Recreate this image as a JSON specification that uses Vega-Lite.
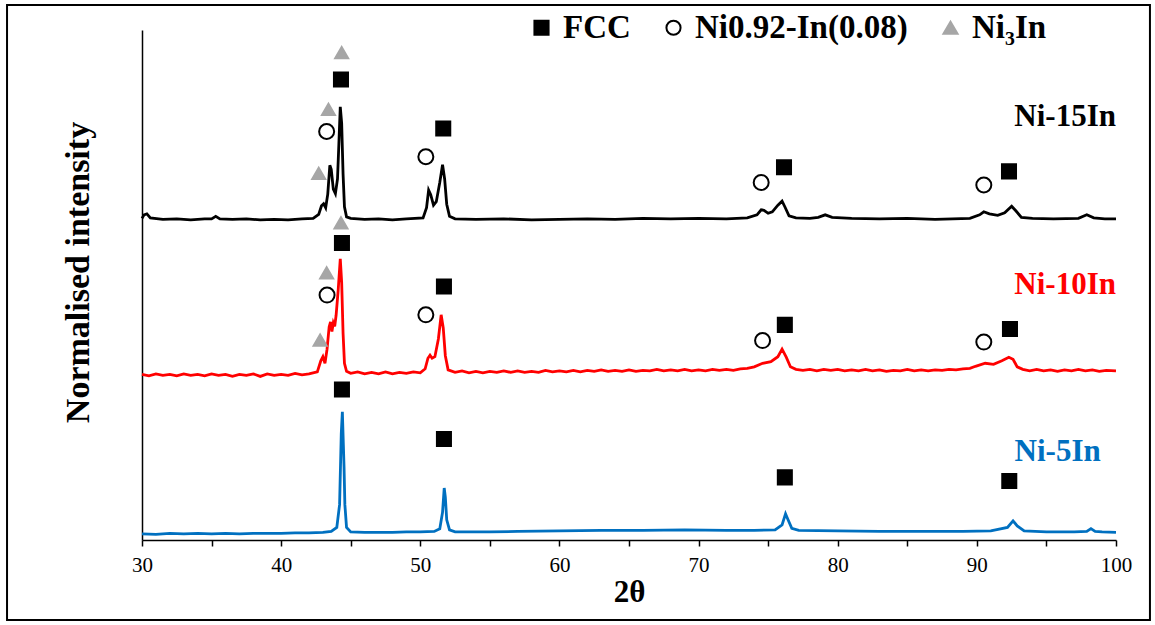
{
  "$schema": "https://vega.github.io/schema/vega-lite/v6.json",
  "width": 974,
  "height": 510,
  "autosize": {"type": "none"},
  "padding": {"left": 142, "top": 30, "right": 39, "bottom": 85},
  "background": "white",
  "config": {
    "view": {"stroke": null},
    "font": "Liberation Serif",
    "axis": {"grid": false, "domainColor": "black", "tickColor": "black", "labelColor": "black", "titleColor": "black"},
    "legend": {"labelFont": "Liberation Serif", "labelFontWeight": "bold", "labelFontSize": 33, "labelColor": "black", "labelLimit": 0}
  },
  "datasets": {
    "xrd": [
      {"s":"Ni-15In","t":30.0,"i":62.7},{"s":"Ni-15In","t":30.15,"i":63.4},{"s":"Ni-15In","t":30.35,"i":63.6},{"s":"Ni-15In","t":30.6,"i":62.8},{"s":"Ni-15In","t":31.5,"i":62.5},{"s":"Ni-15In","t":32.5,"i":62.6},{"s":"Ni-15In","t":33.5,"i":62.4},{"s":"Ni-15In","t":34.5,"i":62.6},{"s":"Ni-15In","t":35.0,"i":62.6},{"s":"Ni-15In","t":35.3,"i":63.1},{"s":"Ni-15In","t":35.6,"i":62.6},{"s":"Ni-15In","t":36.5,"i":62.5},{"s":"Ni-15In","t":37.5,"i":62.6},{"s":"Ni-15In","t":38.5,"i":62.4},{"s":"Ni-15In","t":39.5,"i":62.5},{"s":"Ni-15In","t":40.5,"i":62.4},{"s":"Ni-15In","t":41.5,"i":62.6},{"s":"Ni-15In","t":42.3,"i":62.7},{"s":"Ni-15In","t":42.7,"i":63.5},{"s":"Ni-15In","t":42.9,"i":65.2},{"s":"Ni-15In","t":43.05,"i":65.6},{"s":"Ni-15In","t":43.2,"i":64.8},{"s":"Ni-15In","t":43.35,"i":67.5},{"s":"Ni-15In","t":43.5,"i":73.2},{"s":"Ni-15In","t":43.6,"i":72.4},{"s":"Ni-15In","t":43.75,"i":68.5},{"s":"Ni-15In","t":43.9,"i":67.6},{"s":"Ni-15In","t":44.05,"i":70.5},{"s":"Ni-15In","t":44.15,"i":77.5},{"s":"Ni-15In","t":44.25,"i":84.8},{"s":"Ni-15In","t":44.35,"i":81.5},{"s":"Ni-15In","t":44.45,"i":71.5},{"s":"Ni-15In","t":44.55,"i":65.0},{"s":"Ni-15In","t":44.7,"i":63.0},{"s":"Ni-15In","t":45.0,"i":62.7},{"s":"Ni-15In","t":46.0,"i":62.5},{"s":"Ni-15In","t":47.0,"i":62.6},{"s":"Ni-15In","t":48.0,"i":62.4},{"s":"Ni-15In","t":49.0,"i":62.6},{"s":"Ni-15In","t":50.2,"i":62.8},{"s":"Ni-15In","t":50.45,"i":64.8},{"s":"Ni-15In","t":50.6,"i":68.3},{"s":"Ni-15In","t":50.75,"i":67.4},{"s":"Ni-15In","t":50.95,"i":65.3},{"s":"Ni-15In","t":51.15,"i":66.0},{"s":"Ni-15In","t":51.4,"i":69.8},{"s":"Ni-15In","t":51.6,"i":73.3},{"s":"Ni-15In","t":51.75,"i":70.5},{"s":"Ni-15In","t":51.9,"i":65.5},{"s":"Ni-15In","t":52.1,"i":63.1},{"s":"Ni-15In","t":52.5,"i":62.6},{"s":"Ni-15In","t":54.0,"i":62.5},{"s":"Ni-15In","t":56.0,"i":62.6},{"s":"Ni-15In","t":58.0,"i":62.4},{"s":"Ni-15In","t":60.0,"i":62.5},{"s":"Ni-15In","t":62.0,"i":62.6},{"s":"Ni-15In","t":64.0,"i":62.5},{"s":"Ni-15In","t":66.0,"i":62.7},{"s":"Ni-15In","t":68.0,"i":62.6},{"s":"Ni-15In","t":70.0,"i":62.7},{"s":"Ni-15In","t":72.0,"i":62.6},{"s":"Ni-15In","t":73.5,"i":62.8},{"s":"Ni-15In","t":74.2,"i":63.4},{"s":"Ni-15In","t":74.5,"i":64.4},{"s":"Ni-15In","t":74.7,"i":64.3},{"s":"Ni-15In","t":75.0,"i":63.7},{"s":"Ni-15In","t":75.3,"i":64.0},{"s":"Ni-15In","t":75.7,"i":65.3},{"s":"Ni-15In","t":76.0,"i":66.1},{"s":"Ni-15In","t":76.2,"i":65.0},{"s":"Ni-15In","t":76.5,"i":63.2},{"s":"Ni-15In","t":77.0,"i":62.8},{"s":"Ni-15In","t":78.0,"i":62.7},{"s":"Ni-15In","t":78.6,"i":62.9},{"s":"Ni-15In","t":79.1,"i":63.4},{"s":"Ni-15In","t":79.6,"i":62.9},{"s":"Ni-15In","t":81.0,"i":62.7},{"s":"Ni-15In","t":83.0,"i":62.6},{"s":"Ni-15In","t":85.0,"i":62.7},{"s":"Ni-15In","t":87.0,"i":62.5},{"s":"Ni-15In","t":89.5,"i":62.7},{"s":"Ni-15In","t":90.2,"i":63.4},{"s":"Ni-15In","t":90.5,"i":64.0},{"s":"Ni-15In","t":90.9,"i":63.6},{"s":"Ni-15In","t":91.5,"i":63.3},{"s":"Ni-15In","t":92.0,"i":63.8},{"s":"Ni-15In","t":92.5,"i":65.1},{"s":"Ni-15In","t":92.8,"i":64.2},{"s":"Ni-15In","t":93.2,"i":62.9},{"s":"Ni-15In","t":94.0,"i":62.7},{"s":"Ni-15In","t":95.5,"i":62.6},{"s":"Ni-15In","t":97.3,"i":62.7},{"s":"Ni-15In","t":97.9,"i":63.4},{"s":"Ni-15In","t":98.4,"i":62.8},{"s":"Ni-15In","t":99.2,"i":62.6},{"s":"Ni-15In","t":100.0,"i":62.6},

      {"s":"Ni-10In","t":30.0,"i":31.8},{"s":"Ni-10In","t":30.5,"i":31.5},{"s":"Ni-10In","t":31.0,"i":31.9},{"s":"Ni-10In","t":31.5,"i":31.6},{"s":"Ni-10In","t":32.0,"i":31.8},{"s":"Ni-10In","t":32.5,"i":31.5},{"s":"Ni-10In","t":33.0,"i":31.9},{"s":"Ni-10In","t":33.5,"i":31.6},{"s":"Ni-10In","t":34.0,"i":31.8},{"s":"Ni-10In","t":34.5,"i":31.5},{"s":"Ni-10In","t":35.0,"i":31.9},{"s":"Ni-10In","t":35.5,"i":31.6},{"s":"Ni-10In","t":36.0,"i":31.8},{"s":"Ni-10In","t":36.5,"i":31.4},{"s":"Ni-10In","t":37.0,"i":31.8},{"s":"Ni-10In","t":37.5,"i":31.6},{"s":"Ni-10In","t":38.0,"i":31.9},{"s":"Ni-10In","t":38.5,"i":31.4},{"s":"Ni-10In","t":39.0,"i":31.9},{"s":"Ni-10In","t":39.5,"i":31.6},{"s":"Ni-10In","t":40.0,"i":31.8},{"s":"Ni-10In","t":40.5,"i":31.6},{"s":"Ni-10In","t":41.0,"i":32.0},{"s":"Ni-10In","t":41.5,"i":31.7},{"s":"Ni-10In","t":42.0,"i":31.9},{"s":"Ni-10In","t":42.6,"i":32.3},{"s":"Ni-10In","t":42.85,"i":34.5},{"s":"Ni-10In","t":43.0,"i":35.3},{"s":"Ni-10In","t":43.15,"i":34.0},{"s":"Ni-10In","t":43.3,"i":36.8},{"s":"Ni-10In","t":43.45,"i":41.2},{"s":"Ni-10In","t":43.55,"i":42.2},{"s":"Ni-10In","t":43.65,"i":40.3},{"s":"Ni-10In","t":43.75,"i":42.0},{"s":"Ni-10In","t":43.85,"i":41.3},{"s":"Ni-10In","t":43.95,"i":43.5},{"s":"Ni-10In","t":44.1,"i":48.5},{"s":"Ni-10In","t":44.25,"i":54.7},{"s":"Ni-10In","t":44.35,"i":50.0},{"s":"Ni-10In","t":44.45,"i":40.0},{"s":"Ni-10In","t":44.55,"i":34.0},{"s":"Ni-10In","t":44.7,"i":32.4},{"s":"Ni-10In","t":45.0,"i":32.0},{"s":"Ni-10In","t":45.5,"i":32.3},{"s":"Ni-10In","t":46.0,"i":31.9},{"s":"Ni-10In","t":46.5,"i":32.2},{"s":"Ni-10In","t":47.0,"i":31.9},{"s":"Ni-10In","t":47.5,"i":32.3},{"s":"Ni-10In","t":48.0,"i":31.9},{"s":"Ni-10In","t":48.5,"i":32.2},{"s":"Ni-10In","t":49.0,"i":32.0},{"s":"Ni-10In","t":49.5,"i":32.3},{"s":"Ni-10In","t":50.0,"i":32.1},{"s":"Ni-10In","t":50.35,"i":32.9},{"s":"Ni-10In","t":50.55,"i":35.0},{"s":"Ni-10In","t":50.7,"i":35.6},{"s":"Ni-10In","t":50.85,"i":35.0},{"s":"Ni-10In","t":51.05,"i":35.3},{"s":"Ni-10In","t":51.3,"i":38.8},{"s":"Ni-10In","t":51.5,"i":43.6},{"s":"Ni-10In","t":51.65,"i":41.0},{"s":"Ni-10In","t":51.8,"i":35.5},{"s":"Ni-10In","t":52.0,"i":32.7},{"s":"Ni-10In","t":52.5,"i":32.2},{"s":"Ni-10In","t":53.0,"i":32.5},{"s":"Ni-10In","t":53.5,"i":32.1},{"s":"Ni-10In","t":54.0,"i":32.4},{"s":"Ni-10In","t":54.5,"i":32.1},{"s":"Ni-10In","t":55.0,"i":32.4},{"s":"Ni-10In","t":55.5,"i":32.2},{"s":"Ni-10In","t":56.0,"i":32.5},{"s":"Ni-10In","t":56.5,"i":32.2},{"s":"Ni-10In","t":57.0,"i":32.5},{"s":"Ni-10In","t":57.5,"i":32.2},{"s":"Ni-10In","t":58.0,"i":32.4},{"s":"Ni-10In","t":58.5,"i":32.2},{"s":"Ni-10In","t":59.0,"i":32.6},{"s":"Ni-10In","t":59.5,"i":32.3},{"s":"Ni-10In","t":60.0,"i":32.5},{"s":"Ni-10In","t":60.5,"i":32.3},{"s":"Ni-10In","t":61.0,"i":32.6},{"s":"Ni-10In","t":61.5,"i":32.3},{"s":"Ni-10In","t":62.0,"i":32.6},{"s":"Ni-10In","t":62.5,"i":32.4},{"s":"Ni-10In","t":63.0,"i":32.7},{"s":"Ni-10In","t":63.5,"i":32.4},{"s":"Ni-10In","t":64.0,"i":32.6},{"s":"Ni-10In","t":64.5,"i":32.4},{"s":"Ni-10In","t":65.0,"i":32.7},{"s":"Ni-10In","t":65.5,"i":32.4},{"s":"Ni-10In","t":66.0,"i":32.6},{"s":"Ni-10In","t":66.5,"i":32.5},{"s":"Ni-10In","t":67.0,"i":32.8},{"s":"Ni-10In","t":67.5,"i":32.5},{"s":"Ni-10In","t":68.0,"i":32.7},{"s":"Ni-10In","t":68.5,"i":32.5},{"s":"Ni-10In","t":69.0,"i":32.8},{"s":"Ni-10In","t":69.5,"i":32.5},{"s":"Ni-10In","t":70.0,"i":32.7},{"s":"Ni-10In","t":70.5,"i":32.5},{"s":"Ni-10In","t":71.0,"i":32.8},{"s":"Ni-10In","t":71.5,"i":32.6},{"s":"Ni-10In","t":72.0,"i":32.8},{"s":"Ni-10In","t":72.5,"i":32.6},{"s":"Ni-10In","t":73.0,"i":32.9},{"s":"Ni-10In","t":73.5,"i":33.0},{"s":"Ni-10In","t":74.0,"i":33.3},{"s":"Ni-10In","t":74.6,"i":34.0},{"s":"Ni-10In","t":75.2,"i":34.3},{"s":"Ni-10In","t":75.7,"i":35.3},{"s":"Ni-10In","t":76.0,"i":36.8},{"s":"Ni-10In","t":76.3,"i":35.2},{"s":"Ni-10In","t":76.6,"i":33.3},{"s":"Ni-10In","t":77.0,"i":32.8},{"s":"Ni-10In","t":77.5,"i":32.6},{"s":"Ni-10In","t":78.0,"i":32.8},{"s":"Ni-10In","t":78.5,"i":32.5},{"s":"Ni-10In","t":79.0,"i":32.8},{"s":"Ni-10In","t":79.5,"i":32.6},{"s":"Ni-10In","t":80.0,"i":32.8},{"s":"Ni-10In","t":80.5,"i":32.5},{"s":"Ni-10In","t":81.0,"i":32.7},{"s":"Ni-10In","t":81.5,"i":32.5},{"s":"Ni-10In","t":82.0,"i":32.8},{"s":"Ni-10In","t":82.5,"i":32.5},{"s":"Ni-10In","t":83.0,"i":32.7},{"s":"Ni-10In","t":83.5,"i":32.4},{"s":"Ni-10In","t":84.0,"i":32.6},{"s":"Ni-10In","t":84.5,"i":32.5},{"s":"Ni-10In","t":85.0,"i":32.8},{"s":"Ni-10In","t":85.5,"i":32.5},{"s":"Ni-10In","t":86.0,"i":32.7},{"s":"Ni-10In","t":86.5,"i":32.5},{"s":"Ni-10In","t":87.0,"i":32.7},{"s":"Ni-10In","t":87.5,"i":32.6},{"s":"Ni-10In","t":88.0,"i":32.8},{"s":"Ni-10In","t":88.5,"i":32.7},{"s":"Ni-10In","t":89.0,"i":32.9},{"s":"Ni-10In","t":89.5,"i":33.0},{"s":"Ni-10In","t":89.9,"i":33.4},{"s":"Ni-10In","t":90.6,"i":34.0},{"s":"Ni-10In","t":91.2,"i":33.8},{"s":"Ni-10In","t":91.8,"i":34.5},{"s":"Ni-10In","t":92.3,"i":35.2},{"s":"Ni-10In","t":92.6,"i":34.8},{"s":"Ni-10In","t":92.9,"i":33.3},{"s":"Ni-10In","t":93.3,"i":32.8},{"s":"Ni-10In","t":93.8,"i":32.5},{"s":"Ni-10In","t":94.3,"i":32.8},{"s":"Ni-10In","t":94.8,"i":32.5},{"s":"Ni-10In","t":95.3,"i":32.7},{"s":"Ni-10In","t":95.8,"i":32.4},{"s":"Ni-10In","t":96.3,"i":32.7},{"s":"Ni-10In","t":96.8,"i":32.5},{"s":"Ni-10In","t":97.3,"i":32.8},{"s":"Ni-10In","t":97.8,"i":32.5},{"s":"Ni-10In","t":98.3,"i":32.7},{"s":"Ni-10In","t":98.8,"i":32.4},{"s":"Ni-10In","t":99.3,"i":32.6},{"s":"Ni-10In","t":100.0,"i":32.5},

      {"s":"Ni-5In","t":30.0,"i":0.2},{"s":"Ni-5In","t":31.0,"i":0.1},{"s":"Ni-5In","t":32.0,"i":0.3},{"s":"Ni-5In","t":33.0,"i":0.2},{"s":"Ni-5In","t":34.0,"i":0.3},{"s":"Ni-5In","t":35.0,"i":0.2},{"s":"Ni-5In","t":36.0,"i":0.3},{"s":"Ni-5In","t":37.0,"i":0.2},{"s":"Ni-5In","t":38.0,"i":0.3},{"s":"Ni-5In","t":39.0,"i":0.3},{"s":"Ni-5In","t":40.0,"i":0.3},{"s":"Ni-5In","t":41.0,"i":0.4},{"s":"Ni-5In","t":42.0,"i":0.4},{"s":"Ni-5In","t":43.0,"i":0.5},{"s":"Ni-5In","t":43.6,"i":0.7},{"s":"Ni-5In","t":44.0,"i":1.5},{"s":"Ni-5In","t":44.2,"i":6.0},{"s":"Ni-5In","t":44.32,"i":20.0},{"s":"Ni-5In","t":44.4,"i":24.4},{"s":"Ni-5In","t":44.47,"i":18.0},{"s":"Ni-5In","t":44.52,"i":13.5},{"s":"Ni-5In","t":44.58,"i":6.0},{"s":"Ni-5In","t":44.7,"i":1.5},{"s":"Ni-5In","t":45.0,"i":0.6},{"s":"Ni-5In","t":46.0,"i":0.5},{"s":"Ni-5In","t":47.0,"i":0.5},{"s":"Ni-5In","t":48.0,"i":0.5},{"s":"Ni-5In","t":49.0,"i":0.6},{"s":"Ni-5In","t":50.0,"i":0.6},{"s":"Ni-5In","t":51.0,"i":0.7},{"s":"Ni-5In","t":51.4,"i":1.2},{"s":"Ni-5In","t":51.6,"i":4.5},{"s":"Ni-5In","t":51.72,"i":9.3},{"s":"Ni-5In","t":51.8,"i":7.5},{"s":"Ni-5In","t":51.9,"i":3.0},{"s":"Ni-5In","t":52.1,"i":1.0},{"s":"Ni-5In","t":52.5,"i":0.6},{"s":"Ni-5In","t":53.0,"i":0.6},{"s":"Ni-5In","t":55.0,"i":0.6},{"s":"Ni-5In","t":57.0,"i":0.7},{"s":"Ni-5In","t":60.0,"i":0.8},{"s":"Ni-5In","t":63.0,"i":0.9},{"s":"Ni-5In","t":66.0,"i":0.9},{"s":"Ni-5In","t":69.0,"i":1.0},{"s":"Ni-5In","t":72.0,"i":0.9},{"s":"Ni-5In","t":74.0,"i":0.9},{"s":"Ni-5In","t":75.5,"i":1.0},{"s":"Ni-5In","t":76.0,"i":2.0},{"s":"Ni-5In","t":76.25,"i":4.2},{"s":"Ni-5In","t":76.4,"i":3.2},{"s":"Ni-5In","t":76.7,"i":1.3},{"s":"Ni-5In","t":77.2,"i":0.9},{"s":"Ni-5In","t":80.0,"i":0.8},{"s":"Ni-5In","t":83.0,"i":0.7},{"s":"Ni-5In","t":86.0,"i":0.7},{"s":"Ni-5In","t":89.0,"i":0.7},{"s":"Ni-5In","t":91.0,"i":0.8},{"s":"Ni-5In","t":92.2,"i":1.5},{"s":"Ni-5In","t":92.6,"i":2.8},{"s":"Ni-5In","t":92.9,"i":1.8},{"s":"Ni-5In","t":93.4,"i":0.8},{"s":"Ni-5In","t":95.0,"i":0.6},{"s":"Ni-5In","t":97.0,"i":0.6},{"s":"Ni-5In","t":97.9,"i":0.7},{"s":"Ni-5In","t":98.2,"i":1.25},{"s":"Ni-5In","t":98.5,"i":0.7},{"s":"Ni-5In","t":99.0,"i":0.6},{"s":"Ni-5In","t":100.0,"i":0.5}
    ],
    "peaks": [
      {"p":"Ni₃In","t":44.35,"i":95.5},{"p":"FCC","t":44.3,"i":90.2},{"p":"Ni₃In","t":43.4,"i":84.3},{"p":"Ni0.92-In(0.08)","t":43.27,"i":79.9},{"p":"Ni₃In","t":42.7,"i":71.6},{"p":"Ni₃In","t":44.3,"i":61.8},{"p":"FCC","t":51.65,"i":80.5},{"p":"Ni0.92-In(0.08)","t":50.4,"i":74.9},{"p":"FCC","t":76.14,"i":72.8},{"p":"Ni0.92-In(0.08)","t":74.5,"i":69.8},{"p":"FCC","t":92.31,"i":72.0},{"p":"Ni0.92-In(0.08)","t":90.5,"i":69.3},
      {"p":"FCC","t":44.37,"i":57.8},{"p":"Ni₃In","t":43.27,"i":51.9},{"p":"Ni0.92-In(0.08)","t":43.3,"i":47.5},{"p":"Ni₃In","t":42.8,"i":38.6},{"p":"FCC","t":51.7,"i":49.2},{"p":"Ni0.92-In(0.08)","t":50.4,"i":43.6},{"p":"FCC","t":76.2,"i":41.6},{"p":"Ni0.92-In(0.08)","t":74.6,"i":38.5},{"p":"FCC","t":92.38,"i":40.8},{"p":"Ni0.92-In(0.08)","t":90.5,"i":38.2},
      {"p":"FCC","t":44.37,"i":28.8},{"p":"FCC","t":51.7,"i":19.0},{"p":"FCC","t":76.2,"i":11.4},{"p":"FCC","t":92.33,"i":10.7}
    ],
    "names": [
      {"s":"Ni-15In","t":100.0,"i":82.7},
      {"s":"Ni-10In","t":100.0,"i":49.5},
      {"s":"Ni-5In","t":98.9,"i":16.4}
    ]
  },
  "layer": [
    {
      "data": {"values": [{}]},
      "mark": {"type": "rect", "filled": false, "stroke": "black", "strokeWidth": 2, "clip": false},
      "encoding": {
        "x": {"datum": 20.3, "type": "quantitative"},
        "x2": {"datum": 102.44},
        "y": {"datum": 104.95, "type": "quantitative"},
        "y2": {"datum": -16.84}
      }
    },
    {
      "data": {"name": "xrd"},
      "mark": {"type": "line", "strokeWidth": 2.8, "interpolate": "linear"},
      "encoding": {
        "x": {
          "field": "t", "type": "quantitative",
          "scale": {"domain": [30, 100], "nice": false, "zero": false},
          "axis": {
            "title": "2θ", "titleFont": "Liberation Serif", "titleFontWeight": "bold", "titleFontSize": 31, "titlePadding": 2,
            "values": [30, 35, 40, 45, 50, 55, 60, 65, 70, 75, 80, 85, 90, 95, 100],
            "labelExpr": "datum.value % 10 === 0 ? datum.label : ''",
            "labelFont": "Liberation Serif", "labelFontSize": 21, "labelPadding": 8, "labelFlush": false,
            "tickSize": 6, "tickWidth": 1.5, "domainWidth": 1.5
          }
        },
        "y": {
          "field": "i", "type": "quantitative",
          "scale": {"domain": [-1, 100], "nice": false, "zero": false},
          "axis": {
            "title": "Normalised intensity", "titleFont": "Liberation Serif", "titleFontWeight": "bold", "titleFontSize": 34,
            "titleX": -64, "titleY": 242, "titleBaseline": "middle", "titleAngle": -90, "titleAlign": "center",
            "labels": false, "ticks": false, "domainWidth": 1.5
          }
        },
        "color": {
          "field": "s", "type": "nominal",
          "scale": {"domain": ["Ni-15In", "Ni-10In", "Ni-5In"], "range": ["#000000", "#ff0000", "#0070c0"]},
          "legend": null
        },
        "detail": {"field": "s"}
      }
    },
    {
      "data": {"name": "peaks"},
      "mark": {"type": "point", "filled": true, "strokeWidth": 2, "opacity": 1},
      "encoding": {
        "x": {"field": "t", "type": "quantitative"},
        "y": {"field": "i", "type": "quantitative"},
        "shape": {
          "field": "p", "type": "nominal",
          "scale": {"domain": ["FCC", "Ni0.92-In(0.08)", "Ni₃In"], "range": ["square", "circle", "triangle-up"]},
          "legend": {"title": null, "orient": "none", "legendX": 383, "legendY": -19, "direction": "horizontal", "symbolSize": 200, "symbolStrokeWidth": 2, "labelOffset": 5, "columnPadding": 26, "labelLimit": 0}
        },
        "fill": {
          "field": "p", "type": "nominal",
          "scale": {"domain": ["FCC", "Ni0.92-In(0.08)", "Ni₃In"], "range": ["#000000", "#ffffff", "#a6a6a6"]}
        },
        "stroke": {
          "field": "p", "type": "nominal",
          "scale": {"domain": ["FCC", "Ni0.92-In(0.08)", "Ni₃In"], "range": ["#000000", "#000000", "#a6a6a6"]}
        },
        "size": {
          "field": "p", "type": "nominal",
          "scale": {"domain": ["Ni₃In", "FCC", "Ni0.92-In(0.08)"], "range": [169, 225, 361]},
          "legend": null
        }
      }
    },
    {
      "data": {"name": "names"},
      "mark": {"type": "text", "align": "right", "baseline": "middle", "font": "Liberation Serif", "fontWeight": "bold", "fontSize": 31},
      "encoding": {
        "x": {"field": "t", "type": "quantitative"},
        "y": {"field": "i", "type": "quantitative"},
        "text": {"field": "s"},
        "color": {"field": "s", "type": "nominal", "legend": null}
      }
    }
  ]
}
